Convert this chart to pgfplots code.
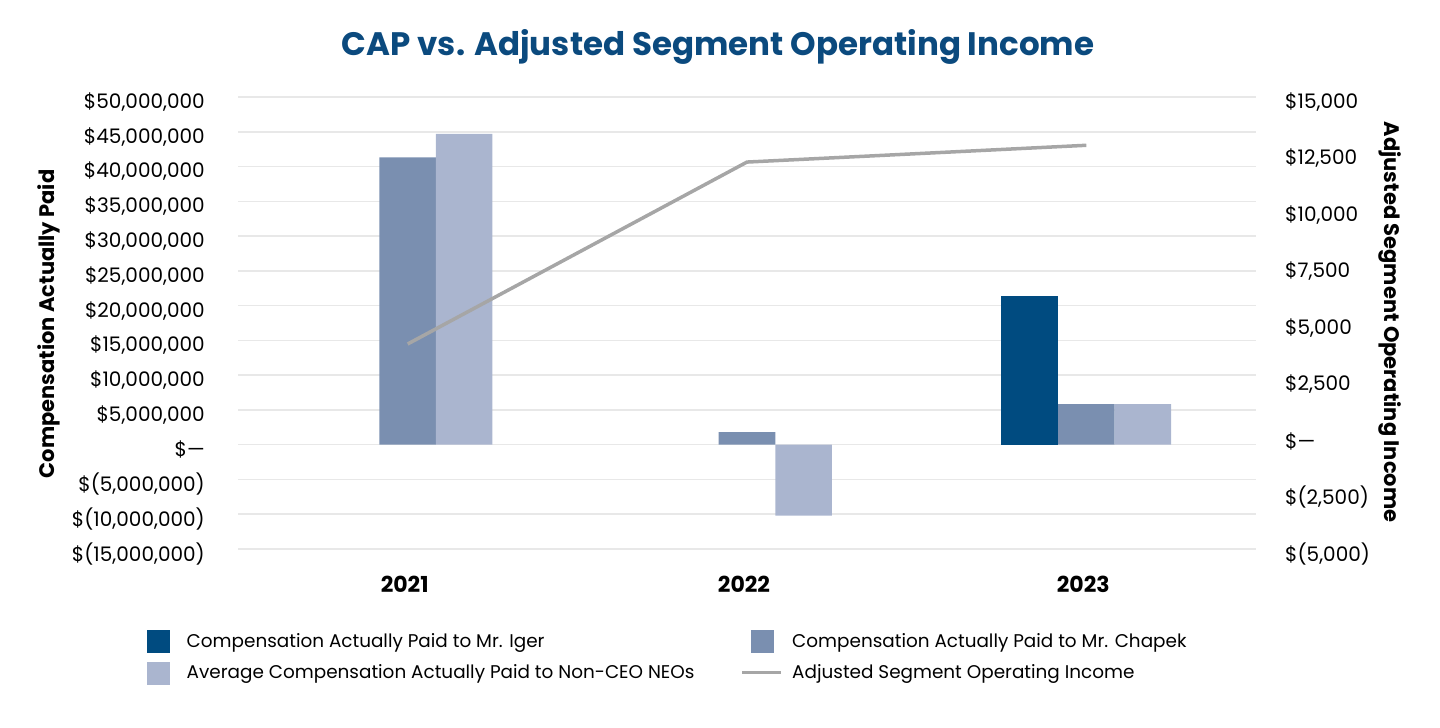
\documentclass[border=0pt]{standalone}
\usepackage{pgfplots}
\pgfplotsset{compat=1.18}
\usepackage{fontspec}
\setmainfont{Poppins}
\definecolor{igerc}{HTML}{004B80}
\definecolor{chapc}{HTML}{7A8FB0}
\definecolor{neoc}{HTML}{AAB5CF}
\definecolor{linec}{HTML}{A6A6A6}
\definecolor{titlec}{HTML}{0B4A7E}
\definecolor{gridc}{HTML}{E8E8E8}
\newcommand{\tf}{\fontsize{20}{24}\selectfont}
\newcommand{\lf}{\fontsize{18.4}{22}\selectfont}
\newcommand{\blf}{\fontsize{21}{25}\selectfont\bfseries}
\begin{document}
\begin{tikzpicture}
\useasboundingbox (0,0) rectangle (1440pt,728pt);
\node[font=\fontsize{32.5}{38}\selectfont\bfseries, text=titlec] at (718pt,681pt) {CAP vs. Adjusted Segment Operating Income};
\begin{axis}[
  at={(238pt,179pt)}, anchor=south west,
  scale only axis, width=1018pt, height=452pt,
  xmin=-0.5, xmax=2.5, ymin=-15000000, ymax=50000000,
  xtick={0,1,2}, xticklabels={2021,2022,2023},
  ytick={-15000000,-10000000,-5000000,0,5000000,10000000,15000000,20000000,25000000,30000000,35000000,40000000,45000000,50000000},
  yticklabels={\$(15{,}000{,}000),\$(10{,}000{,}000),\$(5{,}000{,}000),\$—,\$5{,}000{,}000,\$10{,}000{,}000,\$15{,}000{,}000,\$20{,}000{,}000,\$25{,}000{,}000,\$30{,}000{,}000,\$35{,}000{,}000,\$40{,}000{,}000,\$45{,}000{,}000,\$50{,}000{,}000},
  scaled y ticks=false,
  axis line style={draw=none}, tick style={draw=none},
  ymajorgrids, major grid style={draw=gridc, line width=1.5pt},
  yticklabel style={font=\tf, anchor=east, inner sep=0pt, xshift=-33pt, yshift=-5pt},
  xticklabel style={font=\fontsize{22}{26}\selectfont\bfseries, inner sep=0pt, anchor=center, yshift=-31pt, xshift=-3pt},
  ylabel={Compensation Actually Paid},
  ylabel style={font=\blf, at={(axis description cs:-0.1856,0.498)}, anchor=center, rotate=0},
  ybar, bar width=0.16667, 
]
\addplot[fill=igerc, draw=none, bar shift=-0.16667] coordinates {(2,21400000)};
\addplot[fill=chapc, draw=none, bar shift=0] coordinates {(0,41300000) (1,1800000) (2,5850000)};
\addplot[fill=neoc, draw=none, bar shift=0.16667] coordinates {(0,44700000) (1,-10200000) (2,5850000)};
\end{axis}
\begin{axis}[
  at={(238pt,179pt)}, anchor=south west,
  scale only axis, width=1018pt, height=452pt,
  xmin=-0.5, xmax=2.5, ymin=-5000, ymax=15000,
  hide x axis, axis y line*=right, scaled y ticks=false,
  axis line style={draw=none}, tick style={draw=none},
  ytick={-5000,-2500,0,2500,5000,7500,10000,12500,15000},
  yticklabels={\$(5{,}000),\$(2{,}500),\$—,\$2{,}500,\$5{,}000,\$7{,}500,\$10{,}000,\$12{,}500,\$15{,}000},
  yticklabel style={font=\tf, anchor=west, inner sep=0pt, xshift=29pt, yshift=-5pt},
  ylabel={Adjusted Segment Operating Income},
  ylabel style={font=\blf, at={(axis description cs:1.1317,0.502)}, anchor=center, rotate=180},
  legend columns=2,
  legend style={at={(axis description cs:-0.0977,-0.179)}, anchor=north west, draw=none, fill=none, inner sep=0pt, font=\lf, row sep=9pt, nodes={inner sep=0pt}, cells={anchor=west}, /tikz/every odd column/.append style={column sep=9pt}},
]
\addlegendimage{legend image code/.code={\path[draw=none,fill=none] (0pt,0pt) rectangle (39pt,0pt); \fill[igerc] (8.5pt,-11pt) rectangle (30.5pt,11pt);}}
\addlegendentry{\makebox[554pt][l]{Compensation Actually Paid to Mr. Iger}}
\addlegendimage{legend image code/.code={\path[draw=none,fill=none] (0pt,0pt) rectangle (39pt,0pt); \fill[chapc] (8.5pt,-11pt) rectangle (30.5pt,11pt);}}
\addlegendentry{Compensation Actually Paid to Mr. Chapek}
\addlegendimage{legend image code/.code={\path[draw=none,fill=none] (0pt,0pt) rectangle (39pt,0pt); \fill[neoc] (8.5pt,-11pt) rectangle (30.5pt,11pt);}}
\addlegendentry{\makebox[554pt][l]{Average Compensation Actually Paid to Non-CEO NEOs}}
\addplot[color=linec, line width=3.5pt, mark=none, legend image code/.code={\draw[linec, line width=3.5pt] (0pt,0pt) -- (39pt,0pt);}] coordinates {(0,4070) (1,12121) (2,12863)};
\addlegendentry{Adjusted Segment Operating Income}
\end{axis}
\end{tikzpicture}
\end{document}
